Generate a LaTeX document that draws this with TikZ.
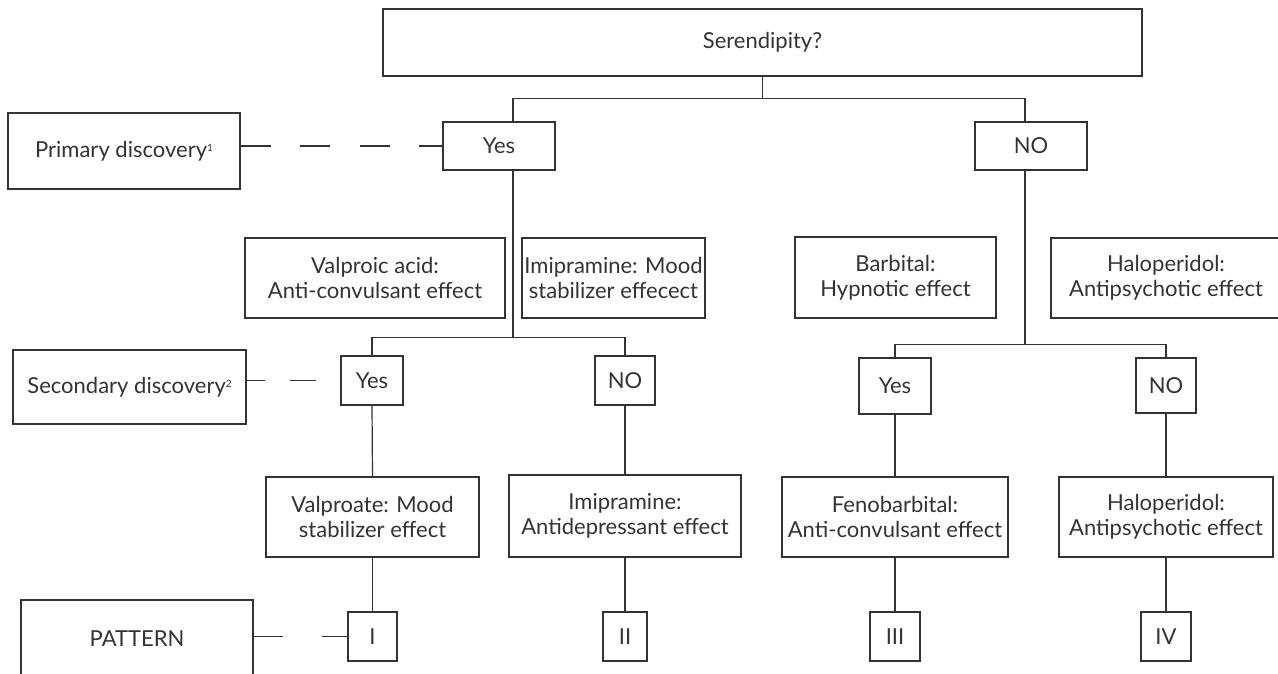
\documentclass[tikz,border=0pt]{standalone}
\usepackage{fontspec}
\setmainfont{Lato}
\usepackage{xcolor}
\usepackage{tikz}
\definecolor{inkgray}{HTML}{333333}
\newcommand{\smallsup}[1]{\raisebox{6pt}{\fontsize{10}{10}\selectfont #1}}

\begin{document}
\begin{tikzpicture}[x=1pt,y=-1pt,
    box/.style={draw=inkgray,line width=1.2pt,rectangle,inner sep=0pt,align=center,text=inkgray,font=\fontsize{22}{25}\selectfont},
    link/.style={draw=inkgray,line width=1.2pt}]
       \useasboundingbox (0,0) rectangle (1278,673);

       \node[box,minimum width=759pt,minimum height=67pt] (ser) at (762.5,42.5) {Serendipity?};

       \node[box,minimum width=232pt,minimum height=76pt] (prim) at (124,151) {Primary discovery\smallsup{1}};
       \node[box,minimum width=112pt,minimum height=48pt] (yes1) at (499,146) {Yes};
       \node[box,minimum width=112pt,minimum height=48pt] (no1) at (1031,146) {NO};

       \node[box,minimum width=260pt,minimum height=80pt] (valac) at (375,278) {Valproic acid:\\Anti-convulsant effect};
       \node[box,minimum width=183pt,minimum height=80pt] (imimood) at (613.5,278) {Imipramine: Mood\\stabilizer effecect};
       \node[box,minimum width=201pt,minimum height=81pt] (barb) at (895.5,277.5) {Barbital:\\Hypnotic effect};
       \node[box,minimum width=230pt,minimum height=80pt] (halo1) at (1166,278) {Haloperidol:\\Antipsychotic effect};

       \node[box,minimum width=233pt,minimum height=74pt] (sec) at (129.5,387) {Secondary discovery\smallsup{2}};
       \node[box,minimum width=62pt,minimum height=49pt] (yes2) at (372,380.5) {Yes};
       \node[box,minimum width=60pt,minimum height=49pt] (no2) at (625,380.5) {NO};
       \node[box,minimum width=72pt,minimum height=56pt] (yes3) at (895,386) {Yes};
       \node[box,minimum width=60pt,minimum height=55pt] (no3) at (1166,385.5) {NO};

       \node[box,minimum width=213pt,minimum height=80pt] (valp) at (372.5,517) {Valproate: Mood\\stabilizer effect};
       \node[box,minimum width=232pt,minimum height=82pt] (imi) at (625,516) {Imipramine:\\Antidepressant effect};
       \node[box,minimum width=226pt,minimum height=80pt] (feno) at (895,517) {Fenobarbital:\\Anti-convulsant effect};
       \node[box,minimum width=214pt,minimum height=80pt] (halo2) at (1166,517) {Haloperidol:\\Antipsychotic effect};

       \node[box,minimum width=232pt,minimum height=78pt] (pat) at (137,639) {PATTERN};
       \node[box,minimum width=49pt,minimum height=49pt] (pI) at (372.5,636.5) {I};
       \node[box,minimum width=44pt,minimum height=49pt] (pII) at (625,636.5) {II};
       \node[box,minimum width=50pt,minimum height=49pt] (pIII) at (895,636.5) {III};
       \node[box,minimum width=50pt,minimum height=49pt] (pIV) at (1166,636.5) {IV};

       \draw[link] (ser.south) -- ++(0,22) coordinate (j1);
       \draw[link] ([xshift=14pt]yes1.north) |- (j1) -| ([xshift=-6pt]no1.north);

       \draw[link] ([xshift=14pt]yes1.south) -- ++(0,167) coordinate (j2);
       \draw[link] (yes2.north) |- (j2) -| (no2.north);
       \draw[link] ([xshift=-6pt]no1.south) -- ++(0,174) coordinate (j3);
       \draw[link] (yes3.north) |- (j3) -| (no3.north);

       \draw[link] (yes2.south) -- (valp.north);
       \draw[link] (no2.south) -- (imi.north);
       \draw[link] (yes3.south) -- (feno.north);
       \draw[link] (no3.south) -- (halo2.north);

       \draw[link] (valp.south) -- (pI.north);
       \draw[link] (imi.south) -- (pII.north);
       \draw[link] (feno.south) -- (pIII.north);
       \draw[link] (halo2.south) -- (pIV.north);

       \draw[link,dash pattern=on 30pt off 29.5pt] (yes1.west -| prim.east) -- (yes1.west);
       \draw[link,dash pattern=on 18pt off 25pt on 26pt off 30pt] (yes2.west -| sec.east) -- (yes2.west);
       \draw[link,dash pattern=on 29pt off 39pt on 30pt off 30pt] (pI.west -| pat.east) -- (pI.west);
   \end{tikzpicture}
\end{document}
